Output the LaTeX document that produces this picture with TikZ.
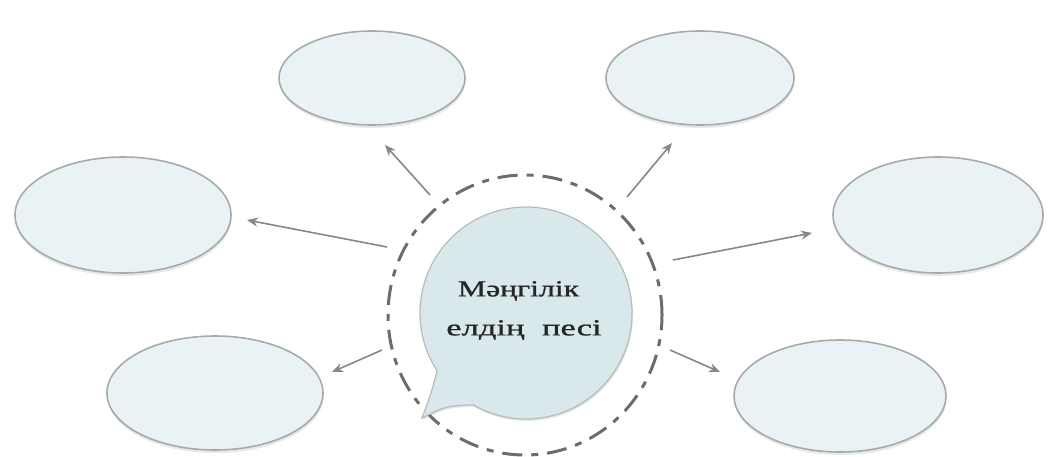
\documentclass[tikz,border=0pt]{standalone}
\usepackage{graphicx}
\usepackage{fontspec}
\setmainfont{Liberation Serif}
\usetikzlibrary{positioning,calc,arrows.meta,shapes.geometric,shadows}

\begin{document}
\begin{tikzpicture}[x=1pt,y=1pt]
	\definecolor{cellfill}{RGB}{233,243,246}
	\definecolor{cellline}{RGB}{168,170,170}
	\definecolor{bubfill}{RGB}{216,232,235}
	\definecolor{ringgray}{RGB}{108,108,108}
	\definecolor{arrgray}{RGB}{135,135,135}
	\tikzset{
		cell/.style={
			ellipse, draw=cellline, fill=cellfill, line width=1.6pt,
			inner sep=0pt,
			drop shadow={opacity=0.18, shadow xshift=0.5pt, shadow yshift=-3pt}
		},
		ring/.style={
			ellipse, draw=ringgray, line width=3pt, inner sep=0pt,
			dash pattern=on 20pt off 9pt on 7pt off 9pt
		},
		bubble/.style={
			fill=bubfill, draw=cellline!80, line width=1.2pt,
			drop shadow={opacity=0.2, shadow xshift=1pt, shadow yshift=-2pt}
		},
		arr/.style={
			-{Stealth[length=11pt,width=9pt]},
			draw=arrgray, line width=1.6pt
		}
	}
	\newcommand{\wide}[2]{\scalebox{#1}[1]{#2}}

	\useasboundingbox (0,0) rectangle (1048,456);

	% ======= six empty ellipses =======
	\node[cell, minimum width=186, minimum height=94]  (tl) at (372,378) {};
	\node[cell, minimum width=188, minimum height=94]  (tr) at (700,378) {};
	\node[cell, minimum width=216, minimum height=116] (lf) at (123,241) {};
	\node[cell, minimum width=210, minimum height=116] (rt) at (938,241) {};
	\node[cell, minimum width=216, minimum height=114] (bl) at (215,63) {};
	\node[cell, minimum width=212, minimum height=112] (br) at (840,60) {};

	% ======= dashed ring and speech bubble =======
	\node[ring, minimum width=274, minimum height=280] (ring) at (525,141) {};
	\coordinate (bc) at (526,143);
	\draw[bubble] ($(bc)+(240:106)$) arc[start angle=240, end angle=573, radius=106]
		.. controls (431,62) .. (422,38)
		.. controls (446,50) .. ($(bc)+(240:106)$) -- cycle;
	\node[font=\fontsize{23}{39}\selectfont\addfontfeature{FakeBold=0.8},
		text=black!85, align=center]
		(title) at (524,145.5) {\wide{1.38}{Мәңгілік}\hspace*{11pt}\\\wide{1.5}{елдің\hspace{6pt} песі}};

	% ======= arrows =======
	\coordinate (s1) at (430,261); \coordinate (e1) at (385,311);
	\coordinate (s2) at (627,259); \coordinate (e2) at (672,313);
	\coordinate (s3) at (387,209); \coordinate (e3) at (247,236);
	\coordinate (s4) at (673,196); \coordinate (e4) at (812,223);
	\coordinate (s5) at (382,106); \coordinate (e5) at (332,84);
	\coordinate (s6) at (670,106); \coordinate (e6) at (720,84);
	\foreach \i in {1,...,6}
		\draw[arr] (s\i) -- (e\i);

\end{tikzpicture}
\end{document}
